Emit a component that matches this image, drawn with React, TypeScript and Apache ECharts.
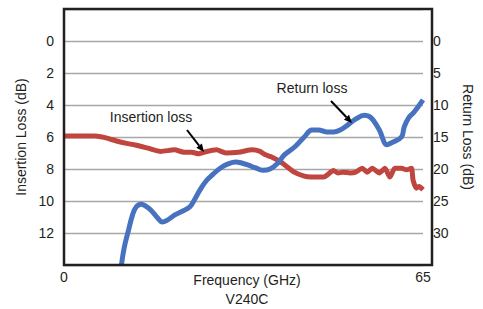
import React, { useEffect, useRef } from "react";
import * as echarts from "echarts";

const ilFreq = [0, 2.8, 5.5, 6.9, 8.1, 9.5, 11.3, 12.9, 15.2, 17.5, 20.0, 21.7, 23.1, 24.4, 25.3, 27.6, 29.3, 31.6, 34.1, 35.5, 36.4, 37.6, 39.4, 41.7, 43.5, 44.7, 47.0, 48.8, 49.6, 50.5, 51.8, 52.8, 54.0, 54.9, 55.8, 57.1, 58.1, 59.0, 59.9, 61.1, 62.0, 62.9, 63.2, 63.8, 64.3, 65];
const ilValues = [5.94, 5.94, 5.94, 6.0, 6.1, 6.25, 6.4, 6.5, 6.7, 6.9, 6.8, 6.95, 6.95, 7.05, 6.95, 6.8, 7.0, 6.95, 6.8, 6.9, 7.1, 7.25, 7.6, 8.2, 8.45, 8.5, 8.5, 8.1, 8.25, 8.2, 8.25, 8.2, 7.95, 8.2, 7.95, 8.25, 7.95, 8.5, 7.95, 7.95, 8.05, 7.95, 8.7, 9.2, 9.1, 9.3];

const rlFreq = [10.4, 10.9, 11.7, 12.4, 13.1, 14.0, 14.8, 15.7, 17.0, 17.8, 18.7, 20.0, 21.4, 22.8, 23.7, 24.6, 25.8, 27.0, 28.4, 29.7, 31.1, 32.3, 33.4, 34.6, 36.0, 37.3, 38.7, 39.9, 41.7, 43.5, 44.9, 46.1, 47.5, 48.8, 50.0, 51.4, 52.8, 54.4, 55.3, 56.0, 57.1, 58.5, 59.3, 61.1, 61.6, 62.4, 63.4, 65];
const rlValues = [35.0, 32.3, 29.5, 27.2, 25.9, 25.5, 25.8, 26.4, 27.7, 28.3, 28.0, 27.2, 26.6, 25.9, 24.7, 23.3, 21.8, 20.8, 19.8, 19.2, 18.9, 19.1, 19.4, 19.8, 20.2, 20.0, 19.1, 17.8, 16.6, 15.0, 13.9, 13.9, 14.2, 14.2, 13.9, 13.1, 12.2, 11.6, 11.8, 12.4, 13.9, 16.2, 15.9, 15.0, 13.4, 12.0, 11.1, 9.2];

const leftTicks = [0, 2, 4, 6, 8, 10, 12];
const rightTicks = [0, 5, 10, 15, 20, 25, 30];
const xTicks = [0, 65];

const FONT = "Liberation Sans";
const TXT = "#231f20";
const W = 483;
const H = 309;

function arrow(x1: number, y1: number, x2: number, y2: number) {
  const dx = x2 - x1, dy = y2 - y1;
  const L = Math.hypot(dx, dy);
  const ux = dx / L, uy = dy / L;
  const hl = 8, hw = 3.5;
  const bx = x2 - hl * ux, by = y2 - hl * uy;
  const px = -uy, py = ux;
  return [
    { type: "line", shape: { x1, y1, x2: bx, y2: by }, style: { stroke: "#000", lineWidth: 2 }, z: 50 },
    {
      type: "polygon",
      shape: { points: [[x2, y2], [bx + hw * px, by + hw * py], [bx - hw * px, by - hw * py]] },
      style: { fill: "#000" },
      z: 50,
    },
  ];
}

export default function App() {
  const ref = useRef<HTMLDivElement>(null);
  useEffect(() => {
    document.body.style.margin = "0";
    const chart = echarts.init(ref.current!, null, { renderer: "svg", width: W, height: H });
    const label = { fontFamily: FONT, fontSize: 14, color: TXT };
    chart.setOption({
      animation: false,
      grid: { left: 64, right: 51, top: 9, bottom: 44, containLabel: false },
      xAxis: {
        type: "value",
        min: 0,
        max: 65,
        interval: 65,
        axisLine: { show: false },
        axisTick: { show: false },
        splitLine: { show: false },
        axisLabel: {
          ...label,
          margin: 5,
          formatter: (v: number) => (xTicks.includes(v) ? String(v) : ""),
        },
      },
      yAxis: [
        {
          type: "value",
          inverse: true,
          min: -2,
          max: 14,
          interval: 2,
          name: "Insertion Loss (dB)",
          nameLocation: "middle",
          nameGap: 36,
          nameTextStyle: { fontFamily: FONT, fontSize: 14, color: TXT },
          axisLine: { show: false },
          axisTick: { show: false },
          splitLine: { show: true, lineStyle: { color: "#a7a7a7", width: 1.3 } },
          axisLabel: {
            ...label,
            margin: 10,
            formatter: (v: number) => (leftTicks.includes(v) ? String(v) : ""),
          },
        },
        {
          type: "value",
          inverse: true,
          min: -5,
          max: 35,
          interval: 5,
          position: "right",
          name: "Return Loss (dB)",
          nameLocation: "middle",
          nameRotate: -90,
          nameGap: 38,
          nameTextStyle: { fontFamily: FONT, fontSize: 14, color: TXT },
          axisLine: { show: false },
          axisTick: { show: false },
          splitLine: { show: false },
          axisLabel: {
            ...label,
            margin: 10,
            formatter: (v: number) => (rightTicks.includes(v) ? String(v) : ""),
          },
        },
      ],
      series: [
        {
          name: "Insertion loss",
          type: "line",
          yAxisIndex: 0,
          data: ilFreq.map((f, i) => [f, ilValues[i]]),
          showSymbol: false,
          smooth: 0.2,
          lineStyle: { color: "#c0453f", width: 5 },
          z: 3,
        },
        {
          name: "Return loss",
          type: "line",
          yAxisIndex: 1,
          data: rlFreq.map((f, i) => [f, rlValues[i]]),
          showSymbol: false,
          smooth: 0.4,
          lineStyle: { color: "#4672bf", width: 5 },
          z: 4,
        },
      ],
      graphic: [
        {
          type: "rect",
          shape: { x: 64, y: 9, width: 368, height: 256 },
          style: { fill: "none", stroke: "#231f20", lineWidth: 2.5 },
          z: 100,
        },
        {
          type: "text",
          x: 247,
          y: 280,
          style: { text: "Frequency (GHz)", fontFamily: FONT, fontSize: 14, fill: TXT, align: "center", verticalAlign: "middle" },
        },
        {
          type: "text",
          x: 247,
          y: 299,
          style: { text: "V240C", fontFamily: FONT, fontSize: 14, fill: TXT, align: "center", verticalAlign: "middle" },
        },
        {
          type: "text",
          x: 151,
          y: 117,
          style: { text: "Insertion loss", fontFamily: FONT, fontSize: 14, fill: TXT, align: "center", verticalAlign: "middle" },
        },
        {
          type: "text",
          x: 312,
          y: 88,
          style: { text: "Return loss", fontFamily: FONT, fontSize: 14, fill: TXT, align: "center", verticalAlign: "middle" },
        },
        ...arrow(187, 130, 204, 152),
        ...arrow(331, 101, 352, 123),
      ],
    });
    return () => chart.dispose();
  }, []);
  return (
    <div
      ref={ref}
      style={{ position: "absolute", left: 0, top: 0, width: W, height: H, background: "#fff" }}
    />
  );
}
